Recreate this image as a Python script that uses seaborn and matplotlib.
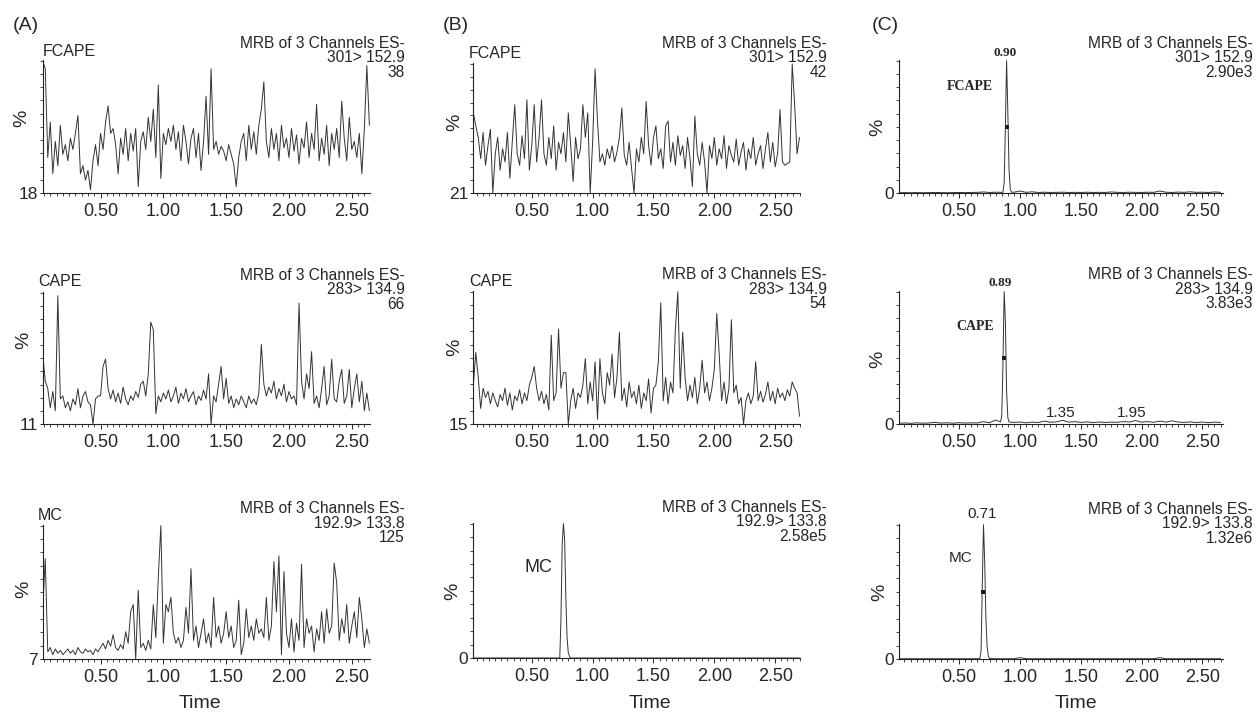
import numpy as np
import pandas as pd
import seaborn as sns
import matplotlib.pyplot as plt
from matplotlib.ticker import FixedLocator, MultipleLocator

W, H = 1257, 712

# ---- noise traces (% of full scale), one value every 0.02 min ----
a_start = 0.04
b_start = 0.02
step = 0.02

fcape_a = [100, 95, 40, 62, 30, 50, 35, 60, 42, 48,
           38, 52, 45, 55, 66, 30, 35, 26, 32, 20,
           38, 48, 35, 55, 45, 62, 72, 55, 58, 48,
           30, 52, 42, 58, 38, 55, 44, 58, 22, 50,
           56, 45, 65, 50, 70, 40, 85, 27, 55, 48,
           58, 50, 60, 45, 56, 38, 60, 50, 36, 52,
           58, 40, 55, 32, 50, 78, 42, 95, 45, 50,
           42, 47, 44, 38, 48, 42, 36, 22, 40, 50,
           55, 38, 60, 45, 56, 42, 60, 70, 87, 50,
           40, 58, 45, 55, 38, 60, 46, 52, 40, 58,
           44, 54, 36, 52, 46, 62, 40, 55, 45, 73,
           38, 52, 42, 60, 35, 55, 45, 58, 40, 75,
           52, 38, 65, 45, 50, 40, 55, 30, 58, 97,
           60]

cape_a = [58, 40, 35, 22, 33, 20, 98, 28, 30, 22,
          26, 20, 28, 24, 35, 22, 30, 33, 26, 24,
          11, 28, 30, 30, 50, 55, 35, 28, 34, 26,
          32, 25, 36, 28, 24, 30, 27, 33, 29, 38,
          40, 30, 45, 80, 75, 18, 30, 26, 32, 28,
          34, 26, 30, 36, 25, 32, 28, 35, 26, 30,
          33, 24, 30, 27, 34, 28, 45, 11, 30, 26,
          38, 50, 28, 42, 25, 30, 22, 28, 24, 30,
          26, 22, 30, 25, 28, 24, 32, 65, 38, 30,
          36, 32, 40, 28, 35, 30, 38, 26, 33, 28,
          30, 24, 93, 40, 28, 45, 35, 60, 25, 30,
          22, 35, 50, 24, 30, 55, 28, 26, 40, 48,
          25, 30, 48, 22, 35, 45, 26, 40, 20, 32,
          20]

mc_a = [43, 77, 12, 15, 10, 14, 11, 13, 10, 12,
        14, 11, 13, 10, 15, 12, 11, 14, 12, 13,
        10, 14, 12, 15, 18, 14, 20, 16, 24, 15,
        13, 17, 14, 26, 18, 40, 45, 7, 55, 15,
        18, 13, 20, 14, 45, 22, 64, 100, 18, 45,
        40, 50, 25, 18, 22, 15, 20, 43, 25, 70,
        20, 30, 15, 25, 35, 18, 25, 15, 50, 22,
        30, 18, 25, 40, 22, 30, 15, 20, 48, 10,
        18, 42, 22, 30, 20, 35, 25, 28, 22, 50,
        20, 30, 75, 40, 79, 10, 68, 25, 15, 35,
        12, 32, 20, 73, 15, 35, 25, 30, 12, 28,
        20, 40, 18, 42, 25, 30, 74, 60, 20, 35,
        25, 45, 18, 30, 40, 22, 50, 35, 15, 28,
        18]

fcape_b = [70, 62, 55, 42, 58, 38, 50, 60, 21, 45,
           55, 35, 48, 40, 58, 30, 52, 75, 45, 38,
           56, 42, 78, 35, 50, 75, 40, 55, 78, 45,
           38, 55, 42, 62, 35, 52, 45, 58, 40, 70,
           50, 28, 55, 42, 48, 75, 55, 70, 21, 52,
           97, 65, 40, 45, 38, 48, 42, 50, 40, 46,
           55, 73, 44, 38, 52, 36, 21, 48, 40, 55,
           45, 77, 50, 38, 55, 62, 42, 48, 36, 62,
           65, 40, 52, 38, 56, 44, 50, 36, 55, 42,
           25, 68, 45, 38, 52, 40, 21, 50, 42, 55,
           38, 48, 42, 56, 36, 50, 44, 40, 54, 38,
           46, 52, 35, 48, 42, 55, 38, 45, 50, 36,
           48, 58, 40, 52, 37, 45, 72, 40, 38, 39,
           40, 100, 75, 45, 55]

cape_b = [40, 61, 45, 25, 38, 32, 36, 28, 35, 30,
          26, 34, 30, 38, 27, 35, 24, 33, 30, 37,
          28, 35, 30, 40, 45, 52, 38, 30, 36, 28,
          34, 24, 72, 30, 35, 76, 38, 48, 48, 15,
          30, 38, 25, 35, 32, 40, 57, 28, 42, 30,
          55, 18, 57, 35, 28, 48, 40, 60, 32, 45,
          74, 30, 38, 26, 42, 32, 36, 28, 40, 25,
          35, 30, 44, 22, 38, 40, 55, 93, 30, 45,
          28, 42, 35, 76, 100, 38, 74, 45, 30, 40,
          32, 45, 28, 38, 56, 35, 42, 30, 38, 50,
          86, 60, 30, 42, 28, 38, 82, 35, 40, 28,
          32, 15, 30, 35, 28, 33, 55, 30, 36, 29,
          34, 42, 30, 36, 28, 38, 32, 35, 30, 37,
          33, 42, 38, 35, 20]

# ---- peak traces ----
mc_b_peak_time = [0.73, 0.74, 0.75, 0.76, 0.77, 0.78, 0.79, 0.80, 0.81, 0.82]
mc_b_peak_val = [0, 30, 85, 100, 88, 45, 15, 4, 1, 0]

c_base_time = np.round(np.arange(0, 2.66, 0.05), 2)
fcape_c_base = [0.2, 0.3, 0.2, 0.3, 0.2, 0.3, 0.4, 0.3, 0.2, 0.3,
                0.4, 0.3, 0.4, 0.5, 0.8, 0.4, 0.6, 0.5, 0.5, 0.6,
                1.5, 0.5, 0.9, 0.4, 0.6, 0.4, 0.5, 0.6, 0.4, 0.5,
                0.4, 0.6, 0.4, 0.5, 0.4, 0.8, 0.5, 0.4, 0.6, 0.5,
                0.4, 0.6, 0.5, 1.5, 0.6, 0.4, 0.7, 0.5, 0.9, 0.5,
                0.6, 0.4, 0.8, 0.5]
cape_c_base = [0.5, 0.8, 0.5, 0.9, 0.6, 0.8, 1.2, 0.7, 0.9, 0.6,
               1.0, 0.7, 0.9, 0.8, 1.8, 0.9, 3.0, 1.0, 1.0, 1.2,
               1.5, 0.9, 1.4, 1.1, 2.2, 1.3, 1.6, 2.8, 1.4, 1.8,
               1.2, 1.6, 1.1, 1.5, 1.2, 1.4, 1.3, 1.8, 1.5, 2.6,
               1.4, 1.8, 1.3, 2.2, 1.4, 2.4, 1.5, 1.2, 1.6, 1.1,
               1.5, 1.0, 1.4, 1.2]
mc_c_base = [0.2] * 20 + [1.0] + [0.2] * 22 + [1.0] + [0.2] * 10

fcape_c_peak_time = [0.86, 0.87, 0.88, 0.89, 0.90, 0.91, 0.92, 0.93]
fcape_c_peak_val = [0.5, 8, 50, 100, 62, 18, 3, 0.6]
cape_c_peak_time = [0.84, 0.85, 0.86, 0.87, 0.88, 0.89, 0.90, 0.91]
cape_c_peak_val = [1.5, 6, 45, 100, 78, 25, 5, 1.5]
mc_c_peak_time = [0.67, 0.68, 0.69, 0.70, 0.71, 0.72, 0.73, 0.74, 0.75]
mc_c_peak_val = [0.3, 6, 55, 100, 72, 30, 9, 2, 0.3]
c_mark_time = [0.89, 0.87, 0.70]

x_major = [0.5, 1.0, 1.5, 2.0, 2.5]
x_major_labels = ['0.50', '1.00', '1.50', '2.00', '2.50']


def noise_frame(start, vals):
    return pd.DataFrame({'time': start + step * np.arange(len(vals)), 'pct': vals})


def peak_frame(base_t, base_v, pk_t, pk_v):
    bt = np.asarray(base_t)
    bv = np.asarray(base_v, dtype=float)
    keep = (bt < pk_t[0]) | (bt > pk_t[-1])
    df = pd.DataFrame({'time': np.concatenate([bt[keep], pk_t]),
                       'pct': np.concatenate([bv[keep], pk_v])})
    return df.sort_values('time')


panels = [
    # frame, box (l, t, r, b in px), xlim, ymin
    (noise_frame(a_start, fcape_a), (43, 60, 370, 193), (0.042, 2.645), 18),
    (noise_frame(a_start, cape_a), (43, 292, 370, 424), (0.042, 2.645), 11),
    (noise_frame(a_start, mc_a), (43, 525, 370, 659), (0.042, 2.645), 7),
    (noise_frame(b_start, fcape_b), (473, 63, 800, 193), (0.017, 2.704), 21),
    (noise_frame(b_start, cape_b), (473, 291, 800, 424), (0.017, 2.704), 15),
    (peak_frame([0.02, 0.72, 0.83, 2.70], [0, 0, 0, 0], mc_b_peak_time, mc_b_peak_val),
     (473, 523, 800, 658), (0.017, 2.704), 0),
    (peak_frame(c_base_time, fcape_c_base, fcape_c_peak_time, fcape_c_peak_val),
     (899, 60, 1223, 193), (0.005, 2.67), 0),
    (peak_frame(c_base_time, cape_c_base, cape_c_peak_time, cape_c_peak_val),
     (899, 291, 1223, 424), (0.005, 2.67), 0),
    (peak_frame(c_base_time, mc_c_base, mc_c_peak_time, mc_c_peak_val),
     (899, 524, 1223, 659), (0.005, 2.67), 0),
]

sns.set_style('ticks')
plt.rcParams['font.family'] = ['Liberation Sans', 'DejaVu Sans']

fig = plt.figure(figsize=(W / 100, H / 100), dpi=100)


def ftext(x, y, s, **kw):
    kw.setdefault('va', 'center')
    fig.text(x / W, 1 - y / H, s, **kw)


axes = []
for df, (l, t, r, b), xl, ymin in panels:
    ax = fig.add_axes([l / W, 1 - b / H, (r - l) / W, (b - t) / H])
    sns.lineplot(data=df, x='time', y='pct', ax=ax, color='#333333', linewidth=0.7,
                 estimator=None, sort=False)
    ax.set_xlim(xl)
    ax.set_ylim(ymin, 100.5)
    ax.set_xlabel('')
    ax.set_ylabel('')
    ax.xaxis.set_major_locator(FixedLocator(x_major))
    ax.set_xticklabels(x_major_labels)
    ax.xaxis.set_minor_locator(MultipleLocator(0.05))
    ax.set_yticks([ymin])
    ax.set_yticklabels([str(ymin)])
    ax.yaxis.set_minor_locator(FixedLocator([ymin + k * (100 - ymin) / 10 for k in range(1, 11)]))
    ax.tick_params(axis='x', which='major', length=3.5, width=0.7, labelsize=13, pad=4)
    ax.tick_params(axis='x', which='minor', length=2, width=0.6)
    ax.tick_params(axis='y', which='major', length=2.5, width=0.7, labelsize=12.5, pad=1)
    ax.tick_params(axis='y', which='minor', length=2, width=0.6)
    for side in ['top', 'right']:
        ax.spines[side].set_visible(False)
    for side in ['left', 'bottom']:
        ax.spines[side].set_linewidth(0.8)
        ax.spines[side].set_color('#222222')
    ax.patch.set_alpha(0)
    axes.append(ax)

# half-height marks on the C peaks
for ax, tm in zip(axes[6:], c_mark_time):
    sns.scatterplot(x=[tm], y=[50], ax=ax, color='#111111', marker='s', s=5, linewidth=0)

# panel letters
ftext(13, 25, '(A)', fontsize=14)
ftext(443, 25, '(B)', fontsize=14)
ftext(872, 25, '(C)', fontsize=14)

# compound names in the A and B columns
ftext(43, 52, 'FCAPE', fontsize=11.5)
ftext(38, 282, 'CAPE', fontsize=11.5)
ftext(38, 516, 'MC', fontsize=11.5)
ftext(469, 54, 'FCAPE', fontsize=11.5)
ftext(469, 281, 'CAPE', fontsize=11.5)
ftext(538, 567, 'MC', fontsize=13, ha='center')

# channel headers (one three-line block each, tight line spacing)
headers = [
    (405, 58, '301> 152.9', '38'),
    (405, 290, '283> 134.9', '66'),
    (405, 523, '192.9> 133.8', '125'),
    (827, 58, '301> 152.9', '42'),
    (827, 289, '283> 134.9', '54'),
    (827, 522, '192.9> 133.8', '2.58e5'),
    (1253, 58, '301> 152.9', '2.90e3'),
    (1253, 289, '283> 134.9', '3.83e3'),
    (1253, 524, '192.9> 133.8', '1.32e6'),
]
for xr, yc, trans, scale in headers:
    block = '\n'.join(['MRB of 3 Channels ES-', trans, scale])
    ftext(xr, yc, block, fontsize=11.2, ha='right', multialignment='right', linespacing=0.98)

# % labels
for x, y in [(22, 118), (24, 340), (24, 589), (455, 122), (455, 347), (453, 591),
             (878, 127), (878, 359), (880, 592)]:
    ftext(x, y, '%', fontsize=14, rotation=90, ha='center')

# Time labels
for x in [200, 650, 1076]:
    ftext(x, 703, 'Time', fontsize=14, ha='center')

# peak annotations in column C
serif = ['Liberation Serif', 'DejaVu Serif']
ftext(1005, 53, '0.90', fontsize=9.5, ha='center', family=serif, weight='bold')
ftext(970, 87, 'FCAPE', fontsize=10, ha='center', family=serif, weight='bold')
ftext(1000, 283, '0.89', fontsize=9.5, ha='center', family=serif, weight='bold')
ftext(975, 327, 'CAPE', fontsize=10, ha='center', family=serif, weight='bold')
ftext(1061, 413, '1.35', fontsize=11, ha='center')
ftext(1132, 413, '1.95', fontsize=11, ha='center')
ftext(982, 514, '0.71', fontsize=11, ha='center')
ftext(961, 558, 'MC', fontsize=11, ha='center')

fig.savefig('out.png', dpi=100, facecolor='white')
